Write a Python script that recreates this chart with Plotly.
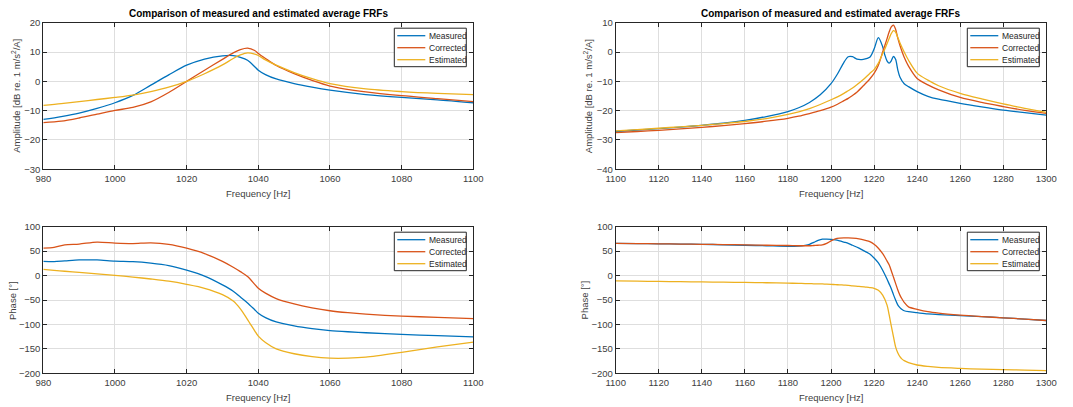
import plotly.graph_objects as go

# ---- Amplitude, 980-1100 Hz ----
freq_a1 = [980, 985, 990, 995, 1000, 1005, 1010, 1015, 1020, 1025, 1030, 1033, 1035,
           1037, 1039, 1040, 1042, 1045, 1050, 1055, 1060, 1070, 1080, 1090, 1100]
amp1_measured = [-13.0, -12.0, -10.8, -9.2, -7.3, -4.8, -1.3, 2.2, 5.5, 7.6, 8.7, 8.8, 8.2,
                 7.2, 5.0, 3.8, 2.3, 0.8, -0.8, -2.0, -3.0, -4.5, -5.5, -6.3, -7.3]
amp1_corrected = [-14.1, -13.6, -12.5, -11.2, -9.9, -8.9, -7.0, -3.8, 0.0, 3.8, 7.5, 9.7, 10.8,
                  11.3, 10.5, 9.5, 7.8, 5.4, 2.6, 0.3, -1.6, -3.6, -4.9, -5.9, -6.9]
amp1_estimated = [-8.2, -7.6, -6.9, -6.2, -5.5, -4.7, -3.5, -2.0, 0.0, 2.6, 5.6, 7.8, 9.0,
                  9.7, 9.3, 8.8, 7.3, 5.5, 3.0, 0.9, -0.8, -2.6, -3.5, -4.1, -4.5]

# ---- Amplitude, 1100-1300 Hz ----
freq_a2 = [1100, 1110, 1120, 1130, 1140, 1150, 1160, 1170, 1180, 1185, 1190, 1195, 1200,
           1203, 1206, 1208, 1210, 1212, 1215, 1218, 1220, 1222, 1224, 1225, 1226, 1227,
           1228, 1229, 1230, 1231, 1232, 1234, 1236, 1240, 1245, 1250, 1260, 1270, 1280,
           1290, 1300]
amp2_measured = [-27.1, -26.6, -26.1, -25.6, -25.0, -24.3, -23.3, -22.0, -20.3, -19.0, -17.2,
                 -14.6, -10.8, -7.5, -3.5, -1.6, -1.6, -2.4, -2.5, -1.8, 1.0, 4.9, 1.8, -1.0,
                 -3.0, -3.8, -3.0, -1.5, -2.5, -6.0, -8.5, -10.8, -11.8, -13.5, -15.1, -16.1,
                 -17.5, -18.7, -19.8, -20.7, -21.5]
amp2_corrected = [-27.5, -27.1, -26.7, -26.2, -25.7, -25.1, -24.4, -23.6, -22.6, -21.9, -21.0,
                  -20.0, -18.8, -17.8, -16.6, -15.8, -14.8, -13.7, -11.5, -9.2, -7.3, -4.5,
                  0.0, 2.2, 4.5, 6.8, 8.6, 9.2, 7.8, 4.8, 2.3, -1.8, -4.8, -9.0, -11.2, -12.9,
                  -15.5, -17.2, -18.6, -19.9, -20.9]
amp2_estimated = [-26.9, -26.5, -26.0, -25.5, -25.0, -24.4, -23.7, -22.7, -21.3, -20.4, -19.3,
                  -17.9, -16.3, -15.3, -14.1, -13.2, -12.3, -11.2, -9.4, -7.3, -6.0, -3.8,
                  -0.5, 1.0, 2.8, 4.6, 6.3, 7.3, 6.8, 5.0, 3.2, 0.0, -2.8, -7.2, -9.6, -11.5,
                  -14.1, -16.0, -17.7, -19.2, -20.6]

# ---- Phase, 980-1100 Hz ----
freq_p1 = [980, 983, 986, 990, 995, 1000, 1005, 1010, 1015, 1020, 1025, 1030, 1033, 1035,
           1037, 1039, 1040, 1042, 1045, 1050, 1055, 1060, 1065, 1070, 1080, 1090, 1100]
ph1_measured = [29, 28.5, 30, 32, 32, 29.5, 28.5, 25.5, 20.5, 11, -1, -19, -32, -44,
                -56, -70, -77, -86, -95, -103, -108.5, -112.5, -115, -117, -120.5, -123, -125.5]
ph1_corrected = [56, 57.5, 63, 64.5, 68.5, 66.5, 65.5, 67, 64, 56, 45, 29, 17, 8,
                 -2, -18, -26, -36, -47, -58, -66, -72, -76, -79, -83, -85.5, -88]
ph1_estimated = [12.5, 10.5, 8.8, 6.5, 3.5, 0.5, -3, -7, -11.5, -18, -26, -39, -52, -68,
                 -90, -113, -124, -137, -150, -160, -166, -169, -169, -167, -157, -146, -136]

# ---- Phase, 1100-1300 Hz ----
freq_p2 = [1100, 1110, 1120, 1130, 1140, 1150, 1160, 1170, 1180, 1185, 1188, 1190, 1192,
           1194, 1196, 1198, 1200, 1202, 1204, 1206, 1208, 1210, 1213, 1216, 1218, 1220,
           1222, 1224, 1226, 1227, 1228, 1229, 1230, 1231, 1232, 1233, 1234, 1236, 1240,
           1245, 1250, 1260, 1270, 1280, 1290, 1300]
ph2_measured = [66, 65.5, 65, 64.5, 64, 63, 62, 61, 60, 60.5, 62, 64, 68,
                72, 74.5, 74.5, 74, 73, 71, 68.5, 66, 62, 56, 49, 44, 36,
                26, 11, -7, -17, -27, -39, -50, -60, -65.5, -69.5, -72, -74, -76,
                -78.5, -80, -82, -84, -86.5, -89, -92]
ph2_corrected = [66, 65.5, 65, 64.5, 64, 63.5, 63, 62, 61.5, 61, 61, 61, 61.5,
                 62, 63, 66, 71, 75, 76.5, 77, 77, 76.5, 75, 72, 69.5, 64,
                 56, 45, 30, 22, 10, -3, -16, -29, -40, -48, -55, -64, -69,
                 -74, -77, -81, -84, -86.5, -89, -92]
ph2_estimated = [-11, -11.5, -12, -12.5, -13, -13.5, -14, -14.7, -15.5, -16, -16.3, -16.5, -16.8,
                 -17, -17.2, -17.5, -18, -18.5, -19, -19.5, -20, -21, -22, -23.5, -24.5, -26,
                 -30, -40, -60, -80, -103, -125, -146, -158, -166, -171, -174, -178, -183,
                 -186, -188, -190, -191.5, -192.5, -193.5, -194.5]

series_names = ["Measured", "Corrected", "Estimated"]
colors = ["#0072BD", "#D95319", "#EDB120"]

W, H = 1073, 407
FONT = "Liberation Sans, Arial, Helvetica, sans-serif"
AX_COLOR = "#262626"
TXT_COLOR = "#404040"
GRID_COLOR = "#dedede"

# plot-area boxes in pixels: (left, right, top, bottom)
boxes = {
    1: (43.3, 473.3, 22.7, 169.3),
    2: (615.7, 1046.3, 22.7, 169.3),
    3: (43.3, 473.3, 226.7, 373.3),
    4: (615.7, 1046.3, 226.7, 373.3),
}

AMP_LABEL = "Amplitude [dB re. 1 m/s<sup>2</sup>/A]"
PHASE_LABEL = "Phase [°]"

panels = [
    (1, freq_a1, [amp1_measured, amp1_corrected, amp1_estimated], [980, 1100], [-30, 20], 10,
     AMP_LABEL, 27.5, True),
    (2, freq_a2, [amp2_measured, amp2_corrected, amp2_estimated], [1100, 1300], [-40, 10], 10,
     AMP_LABEL, 27.5, True),
    (3, freq_p1, [ph1_measured, ph1_corrected, ph1_estimated], [980, 1100], [-200, 100], 50,
     PHASE_LABEL, 31.3, False),
    (4, freq_p2, [ph2_measured, ph2_corrected, ph2_estimated], [1100, 1300], [-200, 100], 50,
     PHASE_LABEL, 31.3, False),
]

fig = go.Figure()
shapes, annotations = [], []
layout = dict(
    template="none",
    width=W, height=H,
    margin=dict(l=0, r=0, t=0, b=0, autoexpand=False),
    paper_bgcolor="white", plot_bgcolor="white",
    font=dict(family=FONT, size=9.5, color=AX_COLOR),
    showlegend=False,
)


def px(x):
    return x / W


def py(y):
    return 1 - y / H


for idx, freq, ys, xr, yr, ydt, ytitle, ytitle_off, has_title in panels:
    l, r, t, b = boxes[idx]
    sfx = "" if idx == 1 else str(idx)
    for name, col, y in zip(series_names, colors, ys):
        fig.add_trace(go.Scatter(
            x=freq, y=y, name=name, mode="lines",
            line=dict(color=col, width=1.3, shape="spline", smoothing=0.8),
            xaxis="x" + sfx, yaxis="y" + sfx,
        ))
    common = dict(
        automargin=False,
        showline=True, linecolor=AX_COLOR, linewidth=1, mirror="ticks",
        ticks="inside", ticklen=4, tickcolor=AX_COLOR,
        showgrid=True, gridcolor=GRID_COLOR, gridwidth=1, zeroline=False,
        tickfont=dict(family=FONT, size=9.5, color=TXT_COLOR),
    )
    layout["xaxis" + sfx] = dict(
        common, domain=[px(l), px(r)], range=xr, dtick=20, tick0=xr[0],
        anchor="y" + sfx,
    )
    layout["yaxis" + sfx] = dict(
        common, domain=[py(b), py(t)], range=yr, dtick=ydt, tick0=yr[0],
        anchor="x" + sfx,
    )

    # axis titles
    annotations.append(dict(
        text="Frequency [Hz]", x=px((l + r) / 2), y=py(b + 24.5),
        xref="paper", yref="paper", xanchor="center", yanchor="middle",
        showarrow=False, font=dict(family=FONT, size=9.5, color=TXT_COLOR),
    ))
    annotations.append(dict(
        text=ytitle, x=px(l - ytitle_off), y=py((t + b) / 2), textangle=-90,
        xref="paper", yref="paper", xanchor="center", yanchor="middle",
        showarrow=False, font=dict(family=FONT, size=9.5, color=TXT_COLOR),
    ))

    # boxed legend in the upper-right corner of each panel
    lg_r, lg_t = r - 7, t + 5.5
    lg_w, lg_h = 72, 38.5
    lg_l = lg_r - lg_w
    shapes.append(dict(
        type="rect", xref="paper", yref="paper",
        x0=px(lg_l), x1=px(lg_r), y0=py(lg_t + lg_h), y1=py(lg_t),
        line=dict(color=AX_COLOR, width=1), fillcolor="white", layer="above",
    ))
    for i, (name, col) in enumerate(zip(series_names, colors)):
        row_y = lg_t + 7.5 + 12 * i
        shapes.append(dict(
            type="line", xref="paper", yref="paper",
            x0=px(lg_l + 3), x1=px(lg_l + 31), y0=py(row_y), y1=py(row_y),
            line=dict(color=col, width=1.3), layer="above",
        ))
        annotations.append(dict(
            text=name, x=px(lg_l + 32.5), y=py(row_y), xref="paper", yref="paper",
            xanchor="left", yanchor="middle", showarrow=False,
            font=dict(family=FONT, size=8.5, color=AX_COLOR),
        ))

    if has_title:
        annotations.append(dict(
            text="<b>Comparison of measured and estimated average FRFs</b>",
            x=px((l + r) / 2), y=py(14), xref="paper", yref="paper",
            xanchor="center", yanchor="middle", showarrow=False,
            font=dict(family=FONT, size=10, color="#000000"),
        ))

layout["shapes"] = shapes
layout["annotations"] = annotations
fig.update_layout(**layout)
fig.write_html("out.html")
